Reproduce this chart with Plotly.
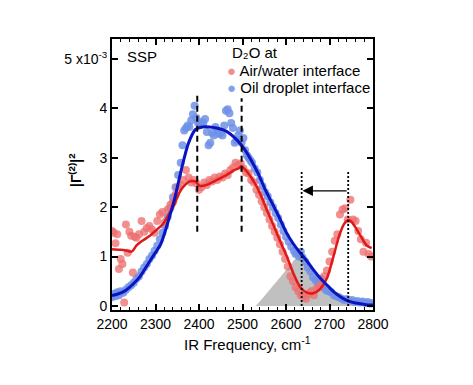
import plotly.graph_objects as go

# ---------------- data ----------------
blue_x = [2200, 2204, 2208, 2212, 2216, 2220, 2226, 2232, 2238, 2244, 2250, 2256, 2262, 2268, 2274,
          2280, 2286, 2292, 2298, 2304, 2310, 2316, 2322, 2328, 2334, 2340, 2346, 2352, 2358, 2362,
          2366, 2370, 2374, 2378, 2382, 2386, 2390, 2394, 2398, 2402, 2406, 2410, 2414, 2418, 2422,
          2426, 2430, 2434, 2438, 2442, 2446, 2450, 2454, 2458, 2462, 2466, 2470, 2474, 2478, 2482,
          2486, 2490, 2494, 2498, 2502, 2506, 2510, 2514, 2518, 2522, 2528, 2534, 2540, 2546, 2552,
          2558, 2564, 2570, 2576, 2582, 2588, 2594, 2600, 2606, 2612, 2618, 2622, 2626, 2630, 2634,
          2638, 2644, 2650, 2656, 2662, 2668, 2674, 2680, 2686, 2692, 2698, 2704, 2710, 2716, 2722,
          2728, 2734, 2740, 2746, 2752, 2758, 2764, 2770, 2776, 2782, 2788, 2794, 2800]
blue_y = [0.18, 0.25, 0.20, 0.28, 0.22, 0.30, 0.27, 0.33, 0.38, 0.42, 0.47, 0.55, 0.60, 0.70, 0.78,
          0.85, 0.95, 1.02, 1.12, 1.22, 1.35, 1.48, 1.62, 1.80, 1.98, 2.20, 2.40, 2.65, 2.90, 3.25,
          3.55, 3.60, 3.65, 3.62, 3.75, 3.88, 4.05, 3.80, 3.70, 3.68, 3.72, 3.70, 3.78, 3.52, 3.25,
          3.30, 3.50, 3.45, 3.62, 3.55, 3.48, 3.50, 3.45, 3.65, 3.95, 3.98, 3.90, 3.70, 3.60, 3.30,
          3.35, 3.45, 3.55, 3.30, 3.40, 3.15, 3.05, 3.00, 2.95, 2.90, 2.78, 2.70, 2.55, 2.42, 2.30,
          2.22, 2.10, 2.00, 1.88, 1.78, 1.65, 1.52, 1.40, 1.30, 1.20, 1.12, 1.05, 1.08, 1.00, 1.10,
          0.98, 0.90, 0.78, 0.70, 0.58, 0.52, 0.45, 0.55, 0.38, 0.32, 0.30, 0.28, 0.22, 0.20, 0.18,
          0.15, 0.12, 0.14, 0.10, 0.12, 0.08, 0.10, 0.07, 0.09, 0.06, 0.08, 0.05, 0.06]

red_x = [2200, 2204, 2208, 2212, 2216, 2220, 2224, 2228, 2232, 2236, 2240, 2244, 2248, 2252, 2256,
         2262, 2268, 2274, 2280, 2286, 2292, 2298, 2304, 2310, 2316, 2322, 2328, 2334, 2340, 2346,
         2352, 2358, 2364, 2370, 2376, 2382, 2388, 2394, 2400, 2406, 2412, 2418, 2424, 2430, 2436,
         2442, 2448, 2454, 2460, 2466, 2472, 2478, 2484, 2490, 2496, 2502, 2508, 2514, 2520, 2526,
         2532, 2538, 2544, 2550, 2556, 2562, 2568, 2574, 2580, 2586, 2592, 2598, 2604, 2610, 2616,
         2622, 2628, 2634, 2640, 2646, 2652, 2658, 2664, 2670, 2676, 2682, 2688, 2694, 2700, 2706,
         2712, 2718, 2724, 2730, 2736, 2742, 2748, 2754, 2760, 2766, 2772, 2778, 2784, 2790, 2796]
red_y = [1.52, 1.48, 1.27, 1.45, 0.75, 0.95, 0.85, 0.07, 1.65, 1.08, 1.50, 1.42, 0.68, 1.40, 1.38,
         1.45, 1.72, 1.50, 1.58, 1.62, 1.55, 1.48, 1.72, 1.85, 1.90, 1.70, 1.95, 2.05, 2.10, 2.25,
         2.40, 2.45, 2.55, 2.75, 2.60, 2.50, 2.55, 2.48, 2.35, 2.40, 2.50, 2.45, 2.55, 2.52, 2.60,
         2.55, 2.62, 2.60, 2.68, 2.65, 2.75, 2.80, 2.90, 2.85, 2.88, 2.78, 2.70, 2.68, 2.55, 2.50,
         2.35, 2.25, 2.12, 2.00, 1.88, 1.75, 1.62, 1.50, 1.38, 1.25, 1.10, 0.95, 0.80, 0.60, 0.50,
         0.38, 0.30, 0.22, 0.20, 0.15, 0.25, 0.30, 0.22, 0.35, 0.38, 0.45, 0.60, 0.72, 0.90, 1.10,
         1.32, 1.45, 1.85, 1.95, 1.98, 1.75, 2.15, 1.75, 1.72, 1.52, 1.35, 1.10, 1.28, 1.05, 1.00]

blue_fit_x = [2200, 2216, 2232, 2248, 2264, 2280, 2296, 2312, 2328, 2344, 2360, 2376, 2392, 2408,
              2424, 2440, 2456, 2472, 2488, 2504, 2520, 2536, 2552, 2568, 2584, 2600, 2616, 2632,
              2648, 2664, 2680, 2696, 2712, 2728, 2744, 2760, 2776, 2792, 2800]
blue_fit_y = [0.21, 0.25, 0.32, 0.44, 0.59, 0.81, 1.03, 1.25, 1.68, 2.17, 2.78, 3.30, 3.57, 3.62,
              3.62, 3.60, 3.56, 3.48, 3.35, 3.18, 2.95, 2.68, 2.36, 2.08, 1.80, 1.50, 1.27, 1.08,
              0.91, 0.72, 0.55, 0.41, 0.27, 0.17, 0.10, 0.06, 0.04, 0.02, 0.02]

red_fit_x = [2200, 2215, 2230, 2245, 2257, 2270, 2287, 2300, 2318, 2330, 2341, 2356, 2368, 2379,
             2391, 2402, 2418, 2430, 2448, 2465, 2479, 2490, 2498, 2510, 2520, 2533, 2545, 2556,
             2568, 2579, 2590, 2602, 2617, 2632, 2648, 2663, 2678, 2694, 2709, 2724, 2735, 2743,
             2751, 2759, 2770, 2785, 2797]
red_fit_y = [1.15, 1.14, 1.13, 1.10, 1.23, 1.32, 1.42, 1.52, 1.67, 1.85, 2.01, 2.31, 2.45, 2.52,
             2.52, 2.43, 2.45, 2.50, 2.58, 2.66, 2.74, 2.78, 2.82, 2.72, 2.60, 2.41, 2.18, 1.94,
             1.70, 1.47, 1.24, 1.00, 0.66, 0.39, 0.27, 0.26, 0.34, 0.56, 1.00, 1.47, 1.68, 1.74,
             1.70, 1.60, 1.44, 1.23, 1.17]

gray_x = [2530, 2550, 2570, 2590, 2610, 2625, 2640, 2655, 2670, 2690, 2710, 2730, 2750, 2770, 2790]
gray_y = [0.00, 0.20, 0.41, 0.62, 0.83, 0.98, 1.00, 0.82, 0.65, 0.46, 0.30, 0.17, 0.08, 0.04, 0.00]

dashed_x = [2396, 2498]
dashed_top = [4.31, 4.20]
dashed_bottom = 1.5
dotted_x = [2636, 2743]
dotted_top = 2.72
arrow_from, arrow_to, arrow_y = 2743, 2638, 2.33

y_ticks = [0, 1, 2, 3, 4, 5]
y_ticktext = ['0', '1', '2', '3', '4', '5 x10<sup>-3</sup>']
x_ticks = [2200, 2300, 2400, 2500, 2600, 2700, 2800]

RED_DOT = 'rgba(238,112,112,0.78)'
BLUE_DOT = 'rgba(110,145,230,0.85)'
RED_LINE = '#e01818'
BLUE_LINE = '#0a14c0'
FONT = 'Liberation Sans, Arial, sans-serif'

# page geometry (body has an 8px margin)
PL, PR, PT, PB = 112, 373, 39, 310
W_, H_ = PR - PL, PB - PT


def px(xp):
    return (xp - PL) / W_


def py(yp):
    return (PB - yp) / H_


fig = go.Figure()

fig.add_trace(go.Scatter(x=gray_x, y=gray_y, mode='lines', fill='tozeroy',
                         line=dict(color='rgba(0,0,0,0)', width=0, shape='spline'),
                         fillcolor='rgb(192,192,192)', showlegend=False, hoverinfo='skip'))

fig.add_trace(go.Scatter(x=blue_x, y=blue_y, mode='markers', name='Oil droplet interface',
                         marker=dict(size=8, color=BLUE_DOT, line=dict(width=0)), showlegend=False))
fig.add_trace(go.Scatter(x=red_x, y=red_y, mode='markers', name='Air/water interface',
                         marker=dict(size=8, color=RED_DOT, line=dict(width=0)), showlegend=False))

fig.add_trace(go.Scatter(x=red_fit_x, y=red_fit_y, mode='lines',
                         line=dict(color=RED_LINE, width=2.5, shape='spline', smoothing=0.8),
                         showlegend=False))
fig.add_trace(go.Scatter(x=blue_fit_x, y=blue_fit_y, mode='lines',
                         line=dict(color=BLUE_LINE, width=3, shape='spline', smoothing=0.8),
                         showlegend=False))

for xv, top in zip(dashed_x, dashed_top):
    fig.add_trace(go.Scatter(x=[xv, xv], y=[dashed_bottom, top], mode='lines',
                             line=dict(color='black', width=2, dash='6px,4px'),
                             showlegend=False, hoverinfo='skip'))
for xv in dotted_x:
    fig.add_trace(go.Scatter(x=[xv, xv], y=[0, dotted_top], mode='lines',
                             line=dict(color='black', width=1.8, dash='2px,2px'),
                             showlegend=False, hoverinfo='skip'))

fig.add_annotation(x=arrow_to, y=arrow_y, ax=arrow_from, ay=arrow_y, xref='x', yref='y',
                   axref='x', ayref='y', showarrow=True, arrowhead=2, arrowsize=1.6,
                   arrowwidth=1.3, arrowcolor='black', text='')

# texts
fig.add_annotation(xref='paper', yref='paper', x=px(142), y=py(56),
                   text='SSP', showarrow=False, font=dict(size=15, color='black', family=FONT),
                   xanchor='center', yanchor='middle')
fig.add_annotation(xref='paper', yref='paper', x=px(230), y=py(53),
                   text='D₂O at', showarrow=False,
                   font=dict(size=15, color='black', family=FONT), xanchor='left', yanchor='middle')
fig.add_annotation(xref='paper', yref='paper', x=px(225), y=py(70.5),
                   text='<span style="color:%s">●</span> Air/water interface' % RED_DOT,
                   showarrow=False, font=dict(size=15, color='black', family=FONT),
                   xanchor='left', yanchor='middle')
fig.add_annotation(xref='paper', yref='paper', x=px(225), y=py(87),
                   text='<span style="color:%s">●</span> Oil droplet interface' % BLUE_DOT,
                   showarrow=False, font=dict(size=15, color='black', family=FONT),
                   xanchor='left', yanchor='middle')

fig.add_annotation(xref='paper', yref='paper', x=px(75), y=py(170),
                   text='<b>|Γ<sup>(2)</sup>|<sup>2</sup></b>', textangle=-90, showarrow=False,
                   font=dict(size=14, color='black', family=FONT), xanchor='center', yanchor='middle')
fig.add_annotation(xref='paper', yref='paper', x=px(247), y=py(343),
                   text='IR Frequency, cm<sup>-1</sup>', showarrow=False,
                   font=dict(size=15, color='black', family=FONT), xanchor='center', yanchor='middle')

fig.update_layout(
    width=465, height=377,
    margin=dict(l=PL - 8, r=473 - PR, t=PT - 8, b=385 - PB),
    paper_bgcolor='white', plot_bgcolor='white',
    font=dict(family=FONT, size=14, color='black'),
    showlegend=False,
)
fig.update_xaxes(range=[2200, 2800], tickvals=x_ticks, ticks='inside', ticklen=6, tickwidth=1.5,
                 tickcolor='black', showline=True, linecolor='black', linewidth=2, mirror='ticks',
                 showgrid=False, zeroline=False, tickfont=dict(size=14),
                 minor=dict(dtick=20, ticks='inside', ticklen=3, tickwidth=1.2, tickcolor='black',
                            showgrid=False))
fig.update_yaxes(range=[-0.08, 5.4], tickvals=y_ticks, ticktext=y_ticktext, ticks='inside',
                 ticklen=6, tickwidth=1.5, tickcolor='black', showline=True, linecolor='black',
                 linewidth=2, mirror='ticks', showgrid=False, zeroline=False, tickfont=dict(size=14))

fig.write_html('out.html')
